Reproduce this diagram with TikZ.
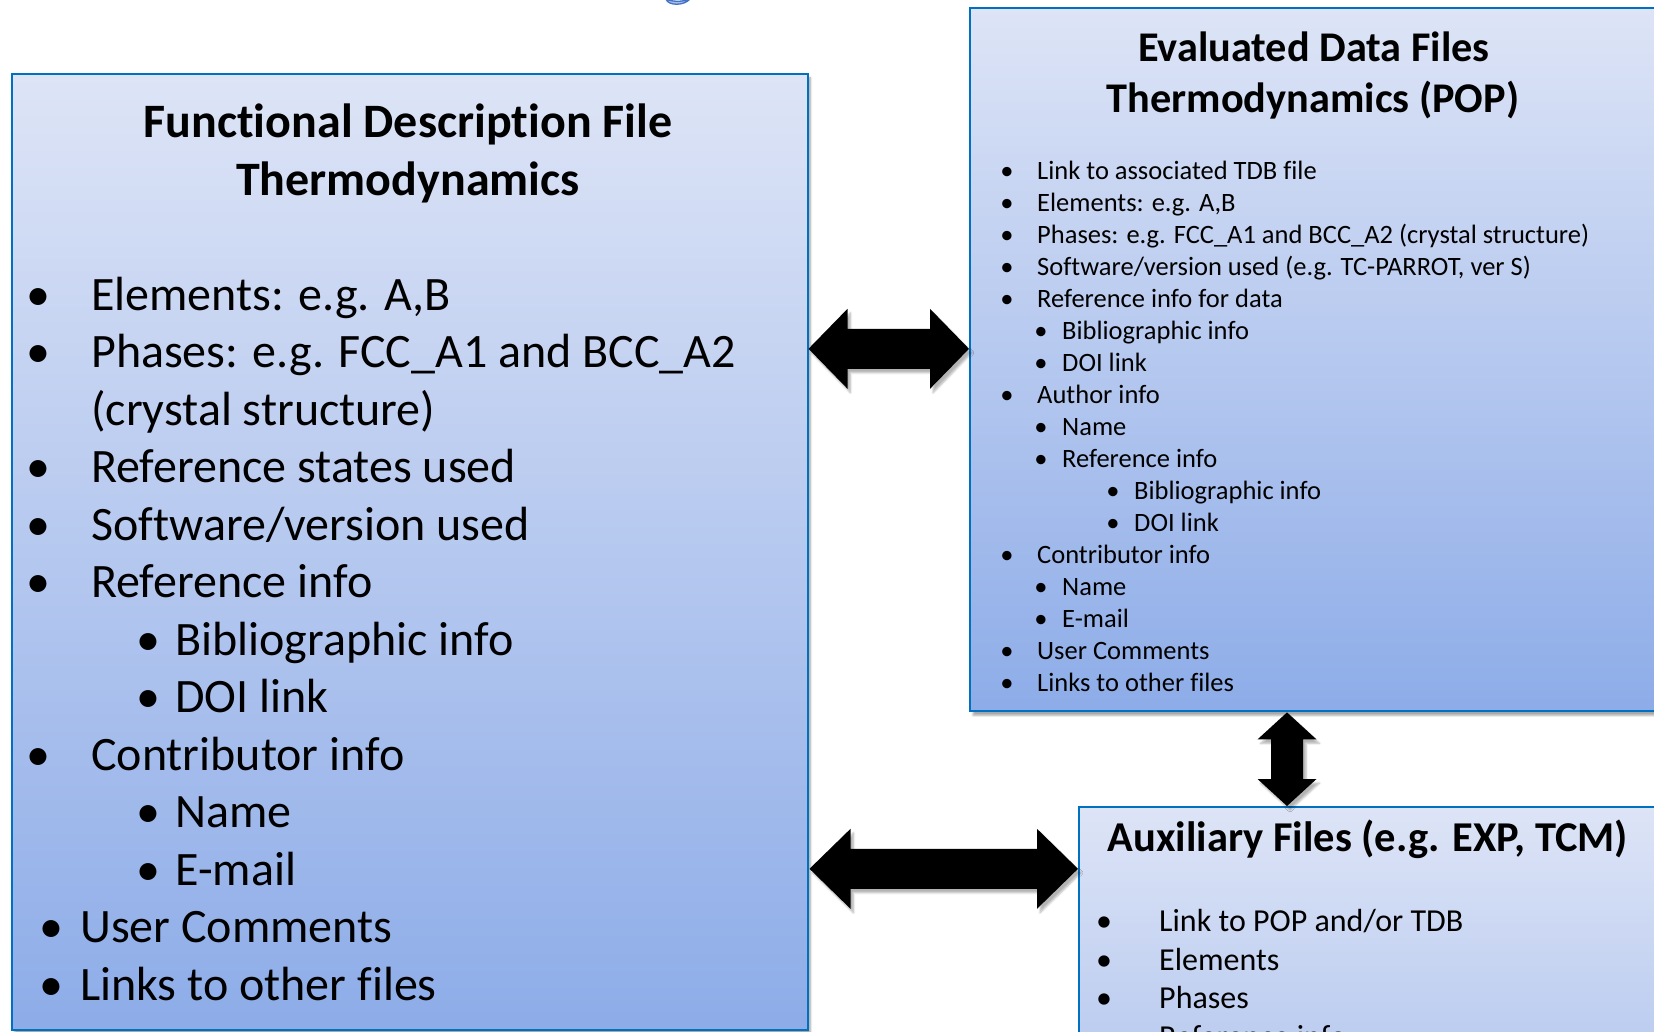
\documentclass[tikz,border=0pt]{standalone}
\usepackage{fontspec}
\setmainfont{Carlito}[Ligatures=NoCommon]
\usetikzlibrary{calc,shadows.blur}

\definecolor{edgeblue}{HTML}{0070C0}
\definecolor{gradtop}{HTML}{DDE4F6}
\definecolor{gradbot}{HTML}{8DACE8}
\definecolor{glyphfill}{HTML}{A4BDEE}
\definecolor{glyphedge}{HTML}{4472C4}

% double-headed block arrows between two points
% #1 start, #2 end, #3 head length, #4 head half-width, #5 shaft half-width
\newcommand\fatharrow[5]{%
  \fill[fatarrow] (#1) -- ($(#1)+(#3,-#4)$) -- ($(#1)+(#3,-#5)$)
    -- ($(#2)+(-#3,-#5)$) -- ($(#2)+(-#3,-#4)$) -- (#2)
    -- ($(#2)+(-#3,#4)$) -- ($(#2)+(-#3,#5)$)
    -- ($(#1)+(#3,#5)$) -- ($(#1)+(#3,#4)$) -- cycle;}
\newcommand\fatvarrow[5]{%
  \fill[fatarrow] (#1) -- ($(#1)+(#4,#3)$) -- ($(#1)+(#5,#3)$)
    -- ($(#2)+(#5,-#3)$) -- ($(#2)+(#4,-#3)$) -- (#2)
    -- ($(#2)+(-#4,-#3)$) -- ($(#2)+(-#5,-#3)$)
    -- ($(#1)+(-#5,#3)$) -- ($(#1)+(-#4,#3)$) -- cycle;}

\begin{document}
\begin{tikzpicture}[x=1pt,y=-1pt,
  panel/.style={draw=edgeblue, line width=2pt, top color=gradtop,
    bottom color=gradbot, anchor=north west, inner sep=0pt,
    blur shadow={shadow xshift=3pt, shadow yshift=-4pt,
      shadow opacity=35, shadow blur steps=6}},
  fatarrow/.style={fill=black, blur shadow={shadow xshift=3pt,
      shadow yshift=-4pt, shadow opacity=30, shadow blur steps=5}},
  % y positions give the visual middle of a line; baseline lies 0.34 em below
  ttl/.style={inner sep=0pt, font=\bfseries\fontsize{#1}{#1}\selectfont,
    anchor=base, yshift={-0.34*#1 pt}},
  item/.style={inner sep=0pt, font=\fontsize{#1}{#1}\selectfont,
    anchor=base west, yshift={-0.34*#1 pt}},
  bul/.style={inner sep=0pt, font=\fontsize{#1}{#1}\selectfont,
    anchor=base, yshift={-0.34*#1 pt}},
]
\useasboundingbox (0,0) rectangle (1654,1031);
\clip (0,0) rectangle (1654,1031);

% remnant of a lettering above the panels
\filldraw[fill=glyphfill, draw=glyphedge, line width=1.3pt]
  (666,-1) .. controls (668,6) and (684,6) .. (690,-1)
  .. controls (683,2) and (672,2) .. (666,-1) -- cycle;

% panels
\node[panel, minimum width=796pt, minimum height=956pt] (fdf) at (10.5,72.8) {};
\node[panel, minimum width=720pt, minimum height=703pt] (pop) at (969,7.4) {};
\node[panel, minimum width=640pt, minimum height=560pt] (aux) at (1078,806) {};

% connectors
\coordinate (h1a) at ($(fdf.north east)+(0,276)$);
\coordinate (h1b) at (pop.west |- h1a);
\coordinate (h2a) at ($(fdf.north east)+(1,796)$);
\coordinate (h2b) at (aux.west |- h2a);
\coordinate (v1a) at ($(pop.south west)+(318,0)$);
\coordinate (v1b) at (v1a |- aux.north);
\fatharrow{h1a}{h1b}{39}{40}{20}
\fatharrow{h2a}{h2b}{41}{40}{20}
\fatvarrow{v1a}{v1b}{27}{29.5}{16}

% functional description file
\node[ttl=48] (fdft1) at (408,121) {Functional Description File};
\node[ttl=48] (fdft2) at (408,179) {Thermodynamics};
\foreach \lv/\txt [count=\i] in {
  1/{Elements: e.g. A,B},
  1/{Phases: e.g. FCC\_A1 and BCC\_A2},
  9/{(crystal structure)},
  1/{Reference states used},
  1/{Software/version used},
  1/{Reference info},
  2/{Bibliographic info},
  2/{DOI link},
  1/{Contributor info},
  2/{Name},
  2/{E-mail},
  0/{User Comments},
  0/{Links to other files}}
{
  \pgfmathsetmacro\yy{294+57.5*(\i-1)}
  \pgfmathsetmacro\bx{\lv==2 ? 148 : (\lv==0 ? 51 : 38)}
  \pgfmathsetmacro\tx{\lv==2 ? 175 : (\lv==0 ? 80 : 91)}
  \ifnum\lv<9
    \node[bul=48] (fb\i) at (\bx,\yy) {\textbullet};
  \fi
  \node[item=48] (fi\i) at (\tx,\yy) {\txt};
}

% evaluated data files
\node[ttl=42.3] (popt1) at (1314,47) {Evaluated Data Files};
\node[ttl=42.3] (popt2) at (1313,98) {Thermodynamics (POP)};
\foreach \lv/\txt [count=\i] in {
  1/{Link to associated TDB file},
  1/{Elements: e.g. A,B},
  1/{Phases: e.g. FCC\_A1 and BCC\_A2 (crystal structure)},
  1/{Software/version used (e.g. TC-PARROT, ver S)},
  1/{Reference info for data},
  2/{Bibliographic info},
  2/{DOI link},
  1/{Author info},
  2/{Name},
  2/{Reference info},
  3/{Bibliographic info},
  3/{DOI link},
  1/{Contributor info},
  2/{Name},
  2/{E-mail},
  1/{User Comments},
  1/{Links to other files}}
{
  \pgfmathsetmacro\yy{170+32*(\i-1)}
  \pgfmathsetmacro\bx{\lv==1 ? 1007 : (\lv==2 ? 1041 : 1113)}
  \pgfmathsetmacro\tx{\lv==1 ? 1037 : (\lv==2 ? 1062 : 1134)}
  \node[bul=26.5] (pb\i) at (\bx,\yy) {\textbullet};
  \node[item=26.5] (pi\i) at (\tx,\yy) {\txt};
}

% auxiliary files
\node[ttl=42.5] (auxt) at (1368,837) {Auxiliary Files (e.g. EXP, TCM)};
\foreach \txt [count=\i] in {
  {Link to POP and/or TDB}, {Elements}, {Phases}, {Reference info}}
{
  \pgfmathsetmacro\yy{921+38.5*(\i-1)}
  \node[bul=32] (ab\i) at (1104,\yy) {\textbullet};
  \node[item=32] (ai\i) at (1159,\yy) {\txt};
}
\end{tikzpicture}
\end{document}
